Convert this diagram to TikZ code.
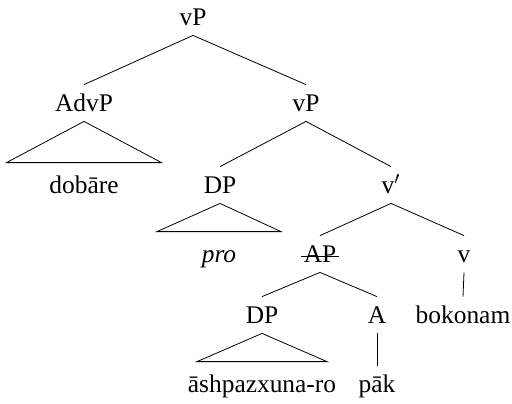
\documentclass[tikz,border=0pt]{standalone}
\usepackage{fontspec}
\setmainfont{Liberation Serif}

\begin{document}
\begin{tikzpicture}[x=0.5pt,y=-0.5pt,
    every node/.style={anchor=base,inner xsep=1pt,inner ysep=5pt,
      text height=8pt,text depth=0pt,font=\fontsize{12.7}{15}\selectfont},
    leaf/.style={inner ysep=7pt}]
  \useasboundingbox (0,0) rectangle (512,403);
  % labels
  \node (vp) at (193,25) {vP};
  \node (advp) at (84,111) {AdvP};
  \node (vpb) at (306,111) {vP};
  \node[leaf] (dobare) at (84,193) {dobāre};
  \node (dp) at (220,193) {DP};
  \node (vbar) at (391,193) {v$'$};
  \node[leaf] (pro) at (219,262) {\textit{pro}};
  \node (ap) at (320,262) {AP};
  \node (v) at (464,262) {v};
  \node (dpb) at (262,323) {DP};
  \node (a) at (377,323) {A};
  \node (bokonam) at (463,323) {bokonam};
  \node[leaf] (ashpaz) at (262,392) {āshpazxuna-ro};
  \node (pak) at (377,392) {pāk};
  % strike through AP
  \draw ([yshift=3pt]ap.base west) -- ([yshift=3pt]ap.base east);
  % branches
  \draw (vp.south) -- (advp.north);
  \draw (vp.south) -- (vpb.north);
  \draw (vpb.south) -- (dp.north);
  \draw (vpb.south) -- (vbar.north);
  \draw (vbar.south) -- (ap.north);
  \draw (vbar.south) -- (v.north);
  \draw (ap.south) -- (dpb.north);
  \draw (ap.south) -- (a.north);
  \draw (v.south) -- (bokonam.north);
  \draw (a.south) -- (pak.north);
  % triangles
  \draw (advp.south) -- ([xshift=-38.75pt]dobare.north) -- ([xshift=38.75pt]dobare.north) -- cycle;
  \draw (dp.south) -- ([xshift=-31pt]pro.north) -- ([xshift=31pt]pro.north) -- cycle;
  \draw (dpb.south) -- ([xshift=-32.5pt]ashpaz.north) -- ([xshift=32.5pt]ashpaz.north) -- cycle;
\end{tikzpicture}
\end{document}
